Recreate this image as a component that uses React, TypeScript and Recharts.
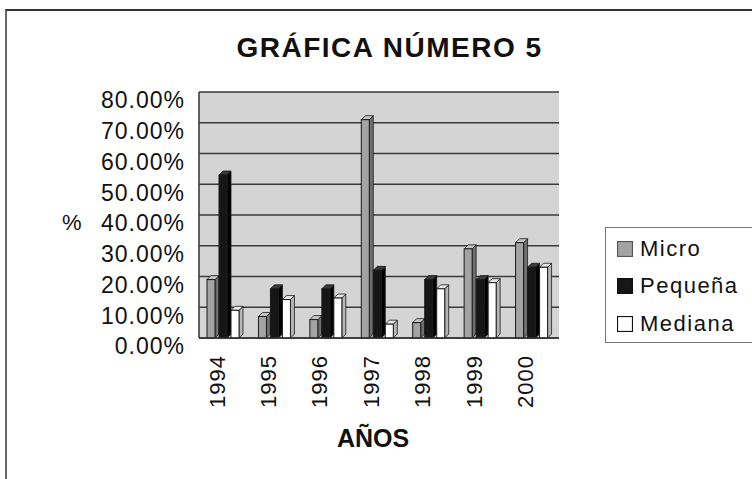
import React from 'react';
import { BarChart, Bar, XAxis, YAxis, CartesianGrid, Legend, Label } from 'recharts';

const years = ['1994', '1995', '1996', '1997', '1998', '1999', '2000'];
const micro = [19, 7, 6, 71, 5, 29, 31];
const pequena = [53, 16, 16, 22, 19, 19, 23];
const mediana = [9, 12.5, 13, 4.5, 16, 18, 23];
const yTicks = [0, 10, 20, 30, 40, 50, 60, 70, 80];
const seriesNames = ['Micro', 'Pequeña', 'Mediana'];

const FONT = '"Liberation Sans", Arial, sans-serif';

const data = years.map((y, i) => ({
  year: y,
  Micro: micro[i],
  'Pequeña': pequena[i],
  Mediana: mediana[i],
}));

const seriesStyle: Record<string, { fill: string; side: string; top: string; stroke: string }> = {
  Micro: { fill: '#a3a3a3', side: '#6e6e6e', top: '#c4c4c4', stroke: '#555' },
  'Pequeña': { fill: '#161616', side: '#000000', top: '#3a3a3a', stroke: '#111' },
  Mediana: { fill: '#ffffff', side: '#b5b5b5', top: '#e6e6e6', stroke: '#111' },
};

const Bar3D = (props: any) => {
  const { x, y, width, height, dataKey } = props;
  if (!height || height <= 0) return null;
  const s = seriesStyle[dataKey] || seriesStyle.Micro;
  const d = 4;
  const fw = width - d;
  return (
    <g>
      <polygon
        points={`${x + fw},${y} ${x + width},${y - d} ${x + width},${y + height - d} ${x + fw},${y + height}`}
        fill={s.side}
        stroke="#1a1a1a"
        strokeWidth={0.8}
      />
      <polygon
        points={`${x},${y} ${x + d},${y - d} ${x + width},${y - d} ${x + fw},${y}`}
        fill={s.top}
        stroke="#1a1a1a"
        strokeWidth={0.8}
      />
      <rect x={x} y={y} width={fw} height={height} fill={s.fill} stroke="#1a1a1a" strokeWidth={1} />
    </g>
  );
};

const YTick = (props: any) => {
  const { x, y, payload } = props;
  return (
    <text
      x={x}
      y={y + 8}
      dy="0.36em"
      textAnchor="end"
      fontFamily={FONT}
      fontSize={23}
      letterSpacing={1}
      fill="#111"
    >
      {`${Number(payload.value).toFixed(2)}%`}
    </text>
  );
};

const XTick = (props: any) => {
  const { x, y, payload } = props;
  return (
    <g transform={`translate(${x - 8},${y + 11}) rotate(-90)`}>
      <text x={0} y={0} dy="0.36em" textAnchor="end" fontFamily={FONT} fontSize={22} letterSpacing={1} fill="#111">
        {payload.value}
      </text>
    </g>
  );
};

const renderLegend = () => (
  <div
    style={{
      border: '1px solid #777',
      background: '#fff',
      width: 170,
      height: 116,
      boxSizing: 'border-box',
      padding: '2px 0 0 11px',
      fontFamily: FONT,
      fontSize: 22,
      letterSpacing: 1.5,
      color: '#111',
    }}
  >
    {seriesNames.map((name) => (
      <div key={name} style={{ display: 'flex', alignItems: 'center', height: 37.5 }}>
        <svg width={16} height={16} style={{ flex: 'none' }}>
          <rect
            x={0.5}
            y={0.5}
            width={15}
            height={15}
            fill={seriesStyle[name].fill}
            stroke={seriesStyle[name].stroke}
            strokeWidth={1.2}
          />
        </svg>
        <span style={{ marginLeft: 7 }}>{name}</span>
      </div>
    ))}
  </div>
);

export default function App() {
  return (
    <div style={{ position: 'absolute', left: 0, top: 0, width: 752, height: 479, overflow: 'hidden', background: '#fff' }}>
      <div
        style={{
          position: 'absolute',
          left: 5,
          top: 9,
          width: 800,
          height: 500,
          borderTop: '2px solid #333',
          borderLeft: '2px solid #666',
        }}
      />
      <div
        style={{
          position: 'absolute',
          left: 0,
          top: 34,
          width: 779,
          textAlign: 'center',
          fontFamily: FONT,
          fontWeight: 'bold',
          fontSize: 28,
          lineHeight: '28px',
          letterSpacing: 1.5,
          color: '#111',
        }}
      >
        GRÁFICA NÚMERO 5
      </div>
      <div style={{ position: 'absolute', left: 0, top: 0 }}>
        <BarChart
          width={752}
          height={479}
          data={data}
          margin={{ top: 92, right: 193, bottom: 0, left: 0 }}
          barSize={12}
          barGap={0}
        >
          <CartesianGrid vertical={false} stroke="#3a3a3a" strokeWidth={1.3} fill="#d4d4d4" />
          <XAxis
            dataKey="year"
            height={141}
            tickLine={false}
            tickSize={6}
            tickMargin={0}
            axisLine={{ stroke: '#333', strokeWidth: 1.5 }}
            tick={<XTick />}
            interval={0}
          >
            <Label
              content={(p: any) => {
                const vb = p.viewBox;
                return (
                  <text
                    x={vb.x + vb.width / 2 - 6}
                    y={447}
                    textAnchor="middle"
                    fontFamily={FONT}
                    fontWeight="bold"
                    fontSize={25}
                    fill="#111"
                  >
                    AÑOS
                  </text>
                );
              }}
            />
          </XAxis>
          <YAxis
            width={199}
            domain={[0, 80]}
            ticks={yTicks}
            interval={0}
            tickLine={false}
            tickSize={6}
            tickMargin={8}
            axisLine={{ stroke: '#333', strokeWidth: 1.5 }}
            tick={<YTick />}
          >
            <Label
              content={(p: any) => {
                const vb = p.viewBox;
                return (
                  <text
                    x={62}
                    y={vb.y + vb.height / 2 + 7}
                    dy="0.36em"
                    textAnchor="start"
                    fontFamily={FONT}
                    fontSize={22}
                    fill="#111"
                  >
                    %
                  </text>
                );
              }}
            />
          </YAxis>
          <Legend
            layout="vertical"
            align="center"
            verticalAlign="middle"
            content={renderLegend}
            wrapperStyle={{ left: 605, top: 227, width: 170 }}
          />
          <Bar dataKey="Micro" name="Micro" fill="#a3a3a3" shape={<Bar3D />} isAnimationActive={false} />
          <Bar dataKey="Pequeña" name="Pequeña" fill="#161616" shape={<Bar3D />} isAnimationActive={false} />
          <Bar dataKey="Mediana" name="Mediana" fill="#ffffff" shape={<Bar3D />} isAnimationActive={false} />
        </BarChart>
      </div>
    </div>
  );
}
